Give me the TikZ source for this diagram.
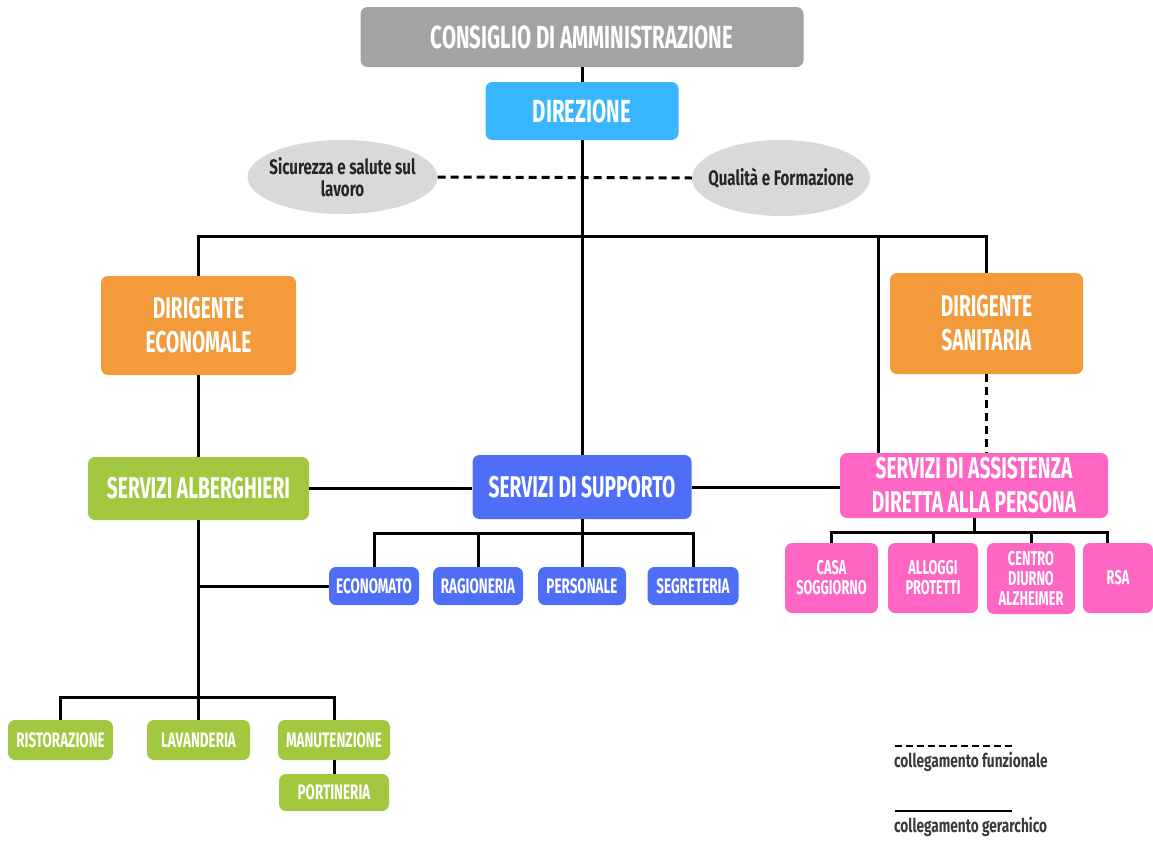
\documentclass[tikz,border=0pt]{standalone}
\usepackage{fontspec}
\usetikzlibrary{shapes.geometric}
\newfontfamily\cond{Fira Sans}[FakeStretch=0.64]
\newfontfamily\condw{Fira Sans}[FakeStretch=0.72]
\definecolor{cgray}{HTML}{A3A3A3}
\definecolor{cblue}{HTML}{38B6FF}
\definecolor{corange}{HTML}{F39A3B}
\definecolor{cgreen}{HTML}{A2C83F}
\definecolor{croyal}{HTML}{4F6EF7}
\definecolor{cpink}{HTML}{FF66C4}
\definecolor{cell}{HTML}{D9D9D9}
\definecolor{ctext}{HTML}{262626}
\definecolor{cleg}{HTML}{3A3A3A}
\begin{document}
\begin{tikzpicture}[x=1pt,y=-1pt,
  box/.style={rounded corners=7pt, inner sep=0pt, text=white, align=center},
  fbig/.style={font=\cond\bfseries\fontsize{32}{34}\selectfont},
  fmid/.style={font=\cond\bfseries\fontsize{30}{34}\selectfont},
  fsmall/.style={font=\cond\bfseries\fontsize{21}{24}\selectfont},
  ftiny/.style={font=\cond\bfseries\fontsize{20}{20}\selectfont},
  ell/.style={ellipse, fill=cell, inner xsep=-25pt, inner ysep=0pt, text=ctext, align=center,
    font=\condw\bfseries\fontsize{21}{22}\selectfont},
  ln/.style={line width=3pt},
  dln/.style={line width=3pt, dash pattern=on 8pt off 5pt},
  legtext/.style={anchor=west, inner sep=0pt, text=cleg,
    font=\condw\bfseries\fontsize{19}{19}\selectfont}]
\useasboundingbox (0,0) rectangle (1153,841);

% top level
\node[box, fbig, fill=cgray, minimum width=443pt, minimum height=60pt] (cda) at (582,37) {CONSIGLIO DI AMMINISTRAZIONE};
\node[box, fbig, fill=cblue, minimum width=193pt, minimum height=58pt] (dir) at (582,111) {DIREZIONE};
\node[ell, minimum width=190pt, minimum height=74pt] (ell1) at (342.5,177) {Sicurezza e salute sul\\lavoro};
\node[ell, minimum width=178pt, minimum height=76pt] (ell2) at (781,178) {Qualità e Formazione};

% managers
\node[box, fmid, fill=corange, minimum width=195pt, minimum height=99pt] (deco) at (198.5,325.5) {DIRIGENTE\\ECONOMALE};
\node[box, fmid, fill=corange, minimum width=193pt, minimum height=101pt] (dsan) at (986.5,323.5) {DIRIGENTE\\SANITARIA};

% services
\node[box, fmid, fill=cgreen, minimum width=221pt, minimum height=63pt] (salb) at (198.5,488.5) {SERVIZI ALBERGHIERI};
\node[box, fmid, fill=croyal, minimum width=219pt, minimum height=64pt] (ssup) at (582,487) {SERVIZI DI SUPPORTO};
\node[box, fmid, fill=cpink, minimum width=268pt, minimum height=65pt] (sass) at (974,485.5) {SERVIZI DI ASSISTENZA\\DIRETTA ALLA PERSONA};

% support children
\node[box, fsmall, fill=croyal, minimum width=90pt, minimum height=38pt] (econ) at (374,586) {ECONOMATO};
\node[box, fsmall, fill=croyal, minimum width=90pt, minimum height=38pt] (ragi) at (478,586) {RAGIONERIA};
\node[box, fsmall, fill=croyal, minimum width=88pt, minimum height=38pt] (pers) at (582,586) {PERSONALE};
\node[box, fsmall, fill=croyal, minimum width=91pt, minimum height=38pt] (segr) at (693,586) {SEGRETERIA};

% hotel children
\node[box, fsmall, fill=cgreen, minimum width=105pt, minimum height=40pt] (rist) at (60.5,740) {RISTORAZIONE};
\node[box, fsmall, fill=cgreen, minimum width=103pt, minimum height=40pt] (lav) at (198.5,740) {LAVANDERIA};
\node[box, fsmall, fill=cgreen, minimum width=112pt, minimum height=40pt] (manu) at (334,740) {MANUTENZIONE};
\node[box, fsmall, fill=cgreen, minimum width=110pt, minimum height=37pt] (port) at (334,792.5) {PORTINERIA};

% care children
\node[box, ftiny, fill=cpink, minimum width=93pt, minimum height=70pt] (casa) at (831.5,578) {CASA\\SOGGIORNO};
\node[box, ftiny, fill=cpink, minimum width=90pt, minimum height=70pt] (allo) at (933,578) {ALLOGGI\\PROTETTI};
\node[box, ftiny, fill=cpink, minimum width=88pt, minimum height=71pt] (cent) at (1031,578.5) {CENTRO\\DIURNO\\ALZHEIMER};
\node[box, ftiny, fill=cpink, minimum width=70pt, minimum height=70pt] (rsa) at (1118,578) {RSA};

% connectors top
\draw[ln] (cda.south) -- (dir.north);
\draw[ln] (dir.south) -- (ssup.north);
\draw[dln] (ell1.east) -- (ell2.west);
\coordinate (bus) at (582,236);
\coordinate (bA) at (878,236);
\draw[ln] (deco.north) -- (deco.north |- bus) -- (dsan.north |- bus) -- (dsan.north);
\draw[ln] (bA) -- (bA |- sass.north);
\draw[dln] (dsan.south) -- (dsan.south |- sass.north);
\draw[ln] (deco.south) -- (salb.north);
\draw[ln] (salb.east) -- (salb.east -| ssup.west);
\draw[ln] (ssup.east) -- (ssup.east -| sass.west);

% support bus
\coordinate (sb) at (582,533);
\draw[ln] (econ.north) -- (econ.north |- sb) -- (segr.north |- sb) -- (segr.north);
\draw[ln] (ragi.north) -- (ragi.north |- sb);
\draw[ln] (ssup.south) -- (pers.north);

% hotel bus
\draw[ln] (salb.south) -- (lav.north);
\draw[ln] (econ.west) -- (econ.west -| salb.south);
\coordinate (hb) at (198.5,697);
\draw[ln] (rist.north) -- (rist.north |- hb) -- (manu.north |- hb) -- (manu.north);
\draw[ln] (manu.south) -- (port.north);

% care bus
\coordinate (pb) at (974,532);
\coordinate (rsatop) at (1107,543);
\draw[ln] (casa.north) -- (casa.north |- pb) -- (rsatop |- pb) -- (rsatop);
\draw[ln] (allo.north) -- (allo.north |- pb);
\draw[ln] (cent.north) -- (cent.north |- pb);
\draw[ln] (sass.south) -- (sass.south |- pb);

% legend
\coordinate (l1a) at (895,746);
\coordinate (l1b) at (1012,746);
\coordinate (l2a) at (895,811);
\coordinate (l2b) at (1012,811);
\draw[line width=2.5pt, dash pattern=on 7pt off 4pt] (l1a) -- (l1b);
\draw[line width=2.5pt] (l2a) -- (l2b);
\node[legtext] (lt1) at (894,762) {collegamento funzionale};
\node[legtext] (lt2) at (894,827) {collegamento gerarchico};
\end{tikzpicture}
\end{document}
